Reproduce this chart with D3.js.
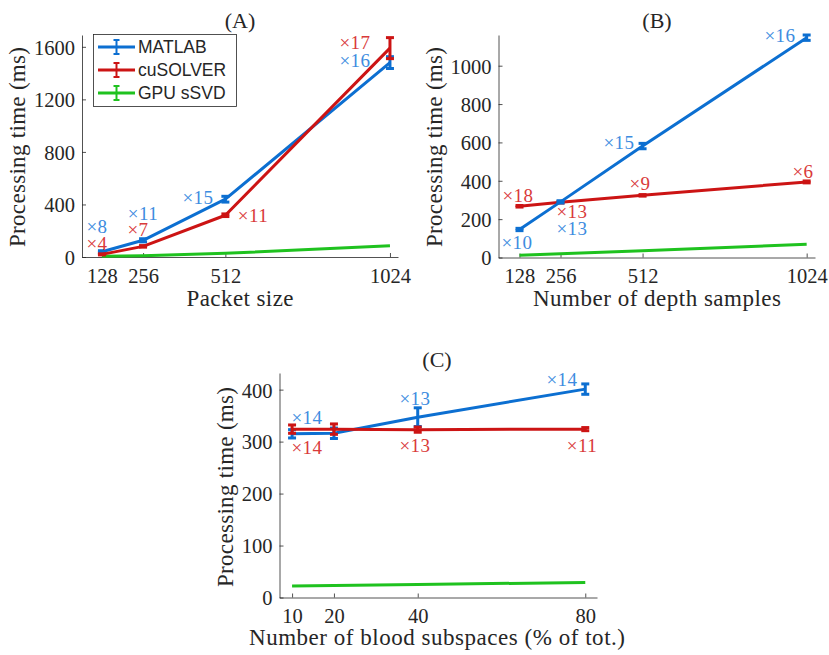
<!DOCTYPE html>
<html>
<head>
<meta charset="utf-8">
<script src="https://cdn.jsdelivr.net/npm/d3@7"></script>
<style>
  body { margin: 0; background: #fff; }
  svg text { font-family: "Liberation Serif", "Times New Roman", serif; fill: #262626; }
  .legend text { font-family: "Liberation Sans", Arial, sans-serif; fill: #262626; }
</style>
</head>
<body>
<svg id="chart" width="829" height="655"></svg>
<script>
// ---- Data -------------------------------------------------------------
const seriesNames = ["MATLAB", "cuSOLVER", "GPU sSVD"];
const seriesColors = ["#0c6fd1", "#cc1414", "#1fc21f"];
const labelColors = ["#3d8ce0", "#d93a3a"];

// (A) processing time vs packet size
const packetSizes = [128, 256, 512, 1024];
const aMatlab = [40, 127, 440, 1480];
const aMatlabErr = [8, 12, 22, 45];
const aCusolver = [20, 81, 318, 1590];
const aCusolverErr = [4, 6, 10, 80];
const aGpu = [5, 10, 28, 85];
const aMatlabSpeedup = ["8", "11", "15", "16"];
const aCusolverSpeedup = ["4", "7", "11", "17"];
const aYTicks = [0, 400, 800, 1200, 1600];

// (B) processing time vs number of depth samples
const depthSamples = [128, 256, 512, 1024];
const bMatlab = [146, 290, 581, 1146];
const bMatlabErr = [6, 6, 14, 14];
const bCusolver = [267, 288, 324, 394];
const bCusolverErr = [4, 4, 4, 5];
const bGpu = [12, 19, 35, 69];
const bMatlabSpeedup = ["10", "13", "15", "16"];
const bCusolverSpeedup = ["18", "13", "9", "6"];
const bYTicks = [0, 200, 400, 600, 800, 1000];

// (C) processing time vs number of blood subspaces
const bloodSubspaces = [10, 20, 40, 80];
const cMatlab = [315, 316, 347, 401];
const cMatlabErr = [8, 10, 18, 10];
const cCusolver = [324, 324, 323, 324];
const cCusolverErr = [8, 10, 5, 3];
const cGpu = [22, 23, 25, 29];
const cMatlabSpeedup = ["14", "", "13", "14"];
const cCusolverSpeedup = ["14", "", "13", "11"];
const cYTicks = [0, 100, 200, 300, 400];

// ---- Drawing ------------------------------------------------------------
const svg = d3.select("#chart");

function panel(cfg) {
  const g = svg.append("g");
  const x = d3.scaleLinear().domain(cfg.xDomain).range([cfg.left, cfg.right]);
  const y = d3.scaleLinear().domain(cfg.yDomain).range([cfg.bottom, cfg.top]);

  // axes (ticks pointing inward, box off)
  const xAxis = g.append("g").attr("transform", `translate(0,${cfg.bottom})`)
    .call(d3.axisBottom(x).tickValues(cfg.xTicks).tickFormat(d3.format("d"))
      .tickSizeInner(-4).tickSizeOuter(0).tickPadding(11));
  const yAxis = g.append("g").attr("transform", `translate(${cfg.left},0)`)
    .call(d3.axisLeft(y).tickValues(cfg.yTicks).tickFormat(d3.format("d"))
      .tickSizeInner(-4).tickSizeOuter(0).tickPadding(7));
  [xAxis, yAxis].forEach(a => {
    a.select(".domain").attr("stroke", "#262626").attr("stroke-width", 0.8);
    a.selectAll(".tick line").attr("stroke", "#262626").attr("stroke-width", 0.8);
    a.selectAll(".tick text").attr("font-size", 20.5).attr("fill", "#262626")
      .style("font-family", '"Liberation Serif", serif');
  });
  xAxis.selectAll(".tick text").attr("dy", "0.71em");
  yAxis.selectAll(".tick text").attr("dy", "0.36em");

  const line = d3.line().x(d => x(d[0])).y(d => y(d[1]));

  // series: GPU first so it sits underneath
  const series = [
    { vals: cfg.gpu, err: null, color: seriesColors[2] },
    { vals: cfg.matlab, err: cfg.matlabErr, color: seriesColors[0] },
    { vals: cfg.cusolver, err: cfg.cusolverErr, color: seriesColors[1] }
  ];
  const order = cfg.redOnTop ? [0, 1, 2] : [0, 2, 1];
  order.forEach(i => {
    const s = series[i];
    const pts = cfg.xs.map((xv, k) => [xv, s.vals[k]]);
    g.append("path").datum(pts).attr("d", line)
      .attr("fill", "none").attr("stroke", s.color).attr("stroke-width", 3)
      .attr("stroke-linejoin", "round");
    if (s.err) {
      pts.forEach((p, k) => {
        const cx = x(p[0]);
        const y0 = y(p[1] - s.err[k]), y1 = y(p[1] + s.err[k]);
        g.append("line").attr("x1", cx).attr("x2", cx).attr("y1", y0).attr("y2", y1)
          .attr("stroke", s.color).attr("stroke-width", 3);
        [y0, y1].forEach(yy => g.append("line")
          .attr("x1", cx - 4).attr("x2", cx + 4).attr("y1", yy).attr("y2", yy)
          .attr("stroke", s.color).attr("stroke-width", 3));
      });
    }
  });

  // speed-up annotations
  cfg.labels.forEach(l => {
    if (!l.text) return;
    g.append("text").attr("x", l.x).attr("y", l.y)
      .attr("text-anchor", "middle").attr("dy", "0.35em")
      .attr("font-size", 19).attr("letter-spacing", 0.5).style("fill", l.color)
      .text("\u00d7" + l.text);
  });

  // titles
  g.append("text").attr("x", cfg.titleX).attr("y", cfg.titleY)
    .attr("text-anchor", "middle").attr("font-size", 22).text(cfg.title);
  g.append("text").attr("x", cfg.xLabelX).attr("y", cfg.xLabelY)
    .attr("text-anchor", "middle").attr("font-size", 23)
    .attr("textLength", cfg.xLabelW).text(cfg.xLabel);
  g.append("text")
    .attr("transform", `translate(${cfg.yLabelX},${cfg.yLabelY}) rotate(-90)`)
    .attr("text-anchor", "middle").attr("font-size", 23)
    .attr("textLength", 200).text("Processing time (ms)");
  return { x, y, g };
}

function speedupLabels(text, color, positions) {
  return positions.map((p, i) => ({ x: p[0], y: p[1], text: text[i], color }));
}

// (A)
panel({
  title: "(A)", titleX: 240, titleY: 28,
  xLabel: "Packet size", xLabelX: 240, xLabelY: 306, xLabelW: 107,
  yLabelX: 25, yLabelY: 147,
  left: 82, right: 398, top: 35, bottom: 257,
  xDomain: [66, 1049], yDomain: [0, 1690],
  xTicks: packetSizes, yTicks: aYTicks, xs: packetSizes,
  matlab: aMatlab, matlabErr: aMatlabErr,
  cusolver: aCusolver, cusolverErr: aCusolverErr, gpu: aGpu,
  redOnTop: true,
  labels: speedupLabels(aMatlabSpeedup, labelColors[0], [[97, 226], [143, 213], [198, 197], [355, 60]])
    .concat(speedupLabels(aCusolverSpeedup, labelColors[1], [[97, 243], [138, 229], [253, 215], [355, 42]]))
});

// legend in panel (A)
const legend = svg.append("g").attr("class", "legend");
legend.append("rect").attr("x", 93.5).attr("y", 34.5).attr("width", 143).attr("height", 72)
  .attr("fill", "#fff").attr("stroke", "#262626").attr("stroke-width", 0.8);
seriesNames.forEach((name, i) => {
  const yy = 47 + i * 23;
  const c = seriesColors[i];
  legend.append("line").attr("x1", 98).attr("x2", 135).attr("y1", yy).attr("y2", yy)
    .attr("stroke", c).attr("stroke-width", 3);
  legend.append("line").attr("x1", 116.5).attr("x2", 116.5).attr("y1", yy - 7).attr("y2", yy + 7)
    .attr("stroke", c).attr("stroke-width", 2);
  [yy - 7, yy + 7].forEach(t => legend.append("line").attr("x1", 113.5).attr("x2", 119.5)
    .attr("y1", t).attr("y2", t).attr("stroke", c).attr("stroke-width", 2));
  legend.append("text").attr("x", 138).attr("y", yy).attr("dy", "0.36em")
    .attr("font-size", 17.5).text(name);
});

// (B)
panel({
  title: "(B)", titleX: 657, titleY: 28,
  xLabel: "Number of depth samples", xLabelX: 657, xLabelY: 306, xLabelW: 248,
  yLabelX: 442, yLabelY: 147,
  left: 498.5, right: 815, top: 35, bottom: 257.5,
  xDomain: [62.5, 1050], yDomain: [0, 1160],
  xTicks: depthSamples, yTicks: bYTicks, xs: depthSamples,
  matlab: bMatlab, matlabErr: bMatlabErr,
  cusolver: bCusolver, cusolverErr: bCusolverErr, gpu: bGpu,
  redOnTop: false,
  labels: speedupLabels(bMatlabSpeedup, labelColors[0], [[517, 242], [572, 228], [619, 142], [780, 35]])
    .concat(speedupLabels(bCusolverSpeedup, labelColors[1], [[518, 195], [572, 211], [640, 183], [803, 171]]))
});

// (C)
panel({
  title: "(C)", titleX: 437, titleY: 367,
  xLabel: "Number of blood subspaces (% of tot.)", xLabelX: 437, xLabelY: 645, xLabelW: 376,
  yLabelX: 233, yLabelY: 487,
  left: 279.5, right: 597, top: 373, bottom: 597.5,
  xDomain: [7, 82.8], yDomain: [0, 432],
  xTicks: bloodSubspaces, yTicks: cYTicks, xs: bloodSubspaces,
  matlab: cMatlab, matlabErr: cMatlabErr,
  cusolver: cCusolver, cusolverErr: cCusolverErr, gpu: cGpu,
  redOnTop: true,
  labels: speedupLabels(cMatlabSpeedup, labelColors[0], [[307, 417], [0, 0], [415, 398], [562, 379]])
    .concat(speedupLabels(cCusolverSpeedup, labelColors[1], [[307, 447], [0, 0], [415, 445], [582, 445]]))
});
</script>
</body>
</html>
